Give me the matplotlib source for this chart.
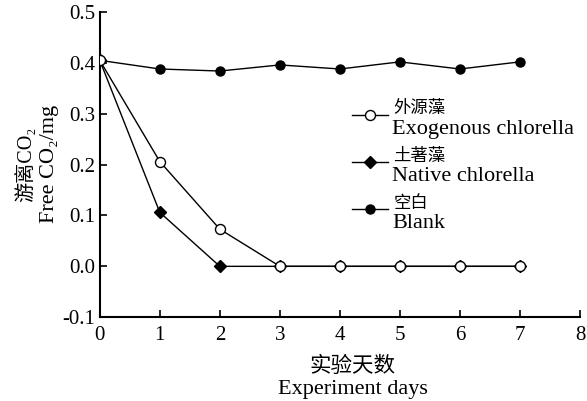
import matplotlib
matplotlib.use("Agg")
import numpy as np
import matplotlib.pyplot as plt
from matplotlib.ticker import FixedLocator, FuncFormatter
from matplotlib.text import Annotation
from matplotlib.legend_handler import HandlerLine2D

days = [0, 1, 2, 3, 4, 5, 6, 7]
exogenous = [0.405, 0.206, 0.073, 0.0, 0.0, 0.0, 0.0, 0.0]
native = [0.405, 0.106, 0.0, 0.0, 0.0, 0.0, 0.0, 0.0]
blank = [0.405, 0.388, 0.384, 0.396, 0.388, 0.402, 0.388, 0.402]

labels_en = ["Exogenous chlorella", "Native chlorella", "Blank"]
labels_zh = ["外源藻", "土著藻", "空白"]
xticks = [0, 1, 2, 3, 4, 5, 6, 7, 8]
yticks = [-0.1, 0.0, 0.1, 0.2, 0.3, 0.4, 0.5]

fam = ["Liberation Serif", "Noto Sans CJK SC", "DejaVu Sans"]
plt.rcParams["font.family"] = fam


class RaisedHandler(HandlerLine2D):
    def __init__(self, dy, **kw):
        super().__init__(**kw)
        self.dy = dy

    def create_artists(self, legend, orig_handle, xdescent, ydescent,
                       width, height, fontsize, trans):
        arts = super().create_artists(legend, orig_handle, xdescent, ydescent,
                                      width, height, fontsize, trans)
        for a in arts:
            a.set_ydata(np.asarray(a.get_ydata()) + self.dy)
        return arts


fig = plt.figure(figsize=(5.87, 4.01), dpi=100)
ax = fig.add_axes([0.170, 0.209, 0.818, 0.761])

ln_n, = ax.plot(days, native, color="black", lw=1.0, marker="D", ms=6,
                mfc="black", mec="black", zorder=2)
ln_e, = ax.plot(days, exogenous, color="black", lw=1.0, marker="o", ms=7.2,
                mfc="white", mec="black", mew=1.0, zorder=3)
ln_b, = ax.plot(days, blank, color="black", lw=1.0, marker="o", ms=6.5,
                mfc="black", mec="black", zorder=2)

ax.set_xlim(0, 8)
ax.set_ylim(-0.1, 0.5)
ax.xaxis.set_major_locator(FixedLocator(xticks))
ax.yaxis.set_major_locator(FixedLocator(yticks))
ax.yaxis.set_major_formatter(FuncFormatter(lambda v, p: f"{v:.1f}"))
ax.xaxis.set_major_formatter(FuncFormatter(lambda v, p: f"{int(round(v))}"))
ax.tick_params(direction="in", length=5, width=1.2, labelsize=15)
ax.tick_params(axis="x", pad=6)
ax.tick_params(axis="y", pad=3)
for s in ["top", "right"]:
    ax.spines[s].set_visible(False)
for s in ["left", "bottom"]:
    ax.spines[s].set_linewidth(1.5)

handler = RaisedHandler(8.0)
leg = fig.legend([ln_e, ln_n, ln_b], labels_en,
                 loc="upper left",
                 bbox_to_anchor=(352 / 587, 1 - 118 / 401), frameon=False,
                 fontsize=16, borderpad=0, borderaxespad=0,
                 handlelength=1.6, handletextpad=0.2, labelspacing=1.2,
                 handler_map={ln_e: handler, ln_n: handler, ln_b: handler})
for t, zh in zip(leg.get_texts(), labels_zh):
    an = Annotation(zh, xy=(0.0, 1.0), xycoords=t, xytext=(1, 1.5),
                    textcoords="offset points", ha="left", va="bottom",
                    fontsize=12.5, zorder=10)
    fig.add_artist(an)

fig.text(0.043, 0.591, "游离CO₂", rotation=90, ha="center", va="center", fontsize=14.5)
fig.text(0.085, 0.591, "Free CO₂/mg", rotation=90, ha="center", va="center", fontsize=16)
fig.text(0.601, 0.085, "实验天数", ha="center", va="center", fontsize=15.5)
fig.text(0.601, 0.029, "Experiment days", ha="center", va="center", fontsize=16)

fig.savefig("out.png", dpi=100)
